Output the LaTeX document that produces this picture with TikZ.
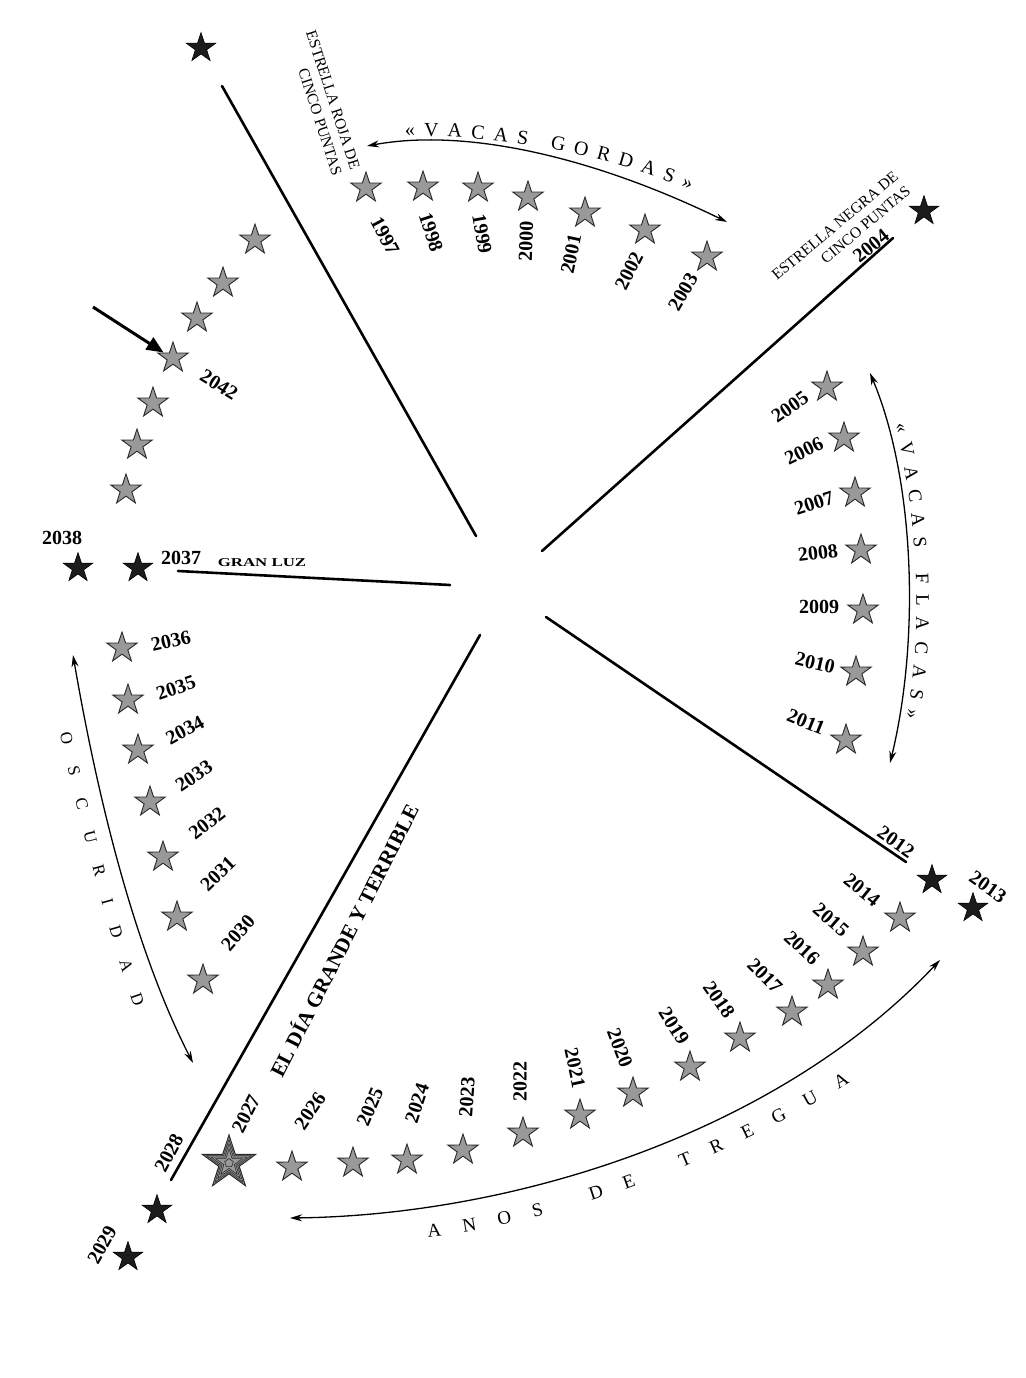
\documentclass[tikz,border=0pt]{standalone}
\usepackage{fontspec}
\setmainfont{Liberation Serif}
\usepackage{graphicx}
\usetikzlibrary{shapes.geometric,arrows.meta,decorations.text}
\definecolor{starfill}{HTML}{999999}
\definecolor{starline}{HTML}{2A2A2A}
\definecolor{bstarfill}{HTML}{1C1C1C}
\newcommand\yearfont{\fontsize{20}{21}\selectfont\bfseries}
\newcommand\capfont{\fontsize{15.5}{19}\selectfont}
\tikzset{
  gstar/.style={star, star points=5, star point ratio=2.6, minimum size=32pt, inner sep=0pt,
    fill=starfill, draw=starline, line width=0.9pt},
  bstar/.style={star, star points=5, star point ratio=2.6, minimum size=31pt, inner sep=0pt,
    fill=bstarfill, draw=black, line width=0.6pt},
  ostar/.style={star, star points=5, star point ratio=2.6, inner sep=0pt, draw=starline, line width=0.6pt},
  yr/.style={font=\yearfont, inner sep=0pt},
  lbl/.style={font=\capfont, inner sep=0pt, align=right},
  spoke/.style={line width=2.6pt, line cap=round},
  thinarr/.style={line width=1.3pt, {Stealth[length=12pt,width=7pt]}-{Stealth[length=12pt,width=7pt]}},
  curvetext/.style={decorate}
}
\begin{document}
\begin{tikzpicture}[x={(1pt,0)}, y={(0,-1pt)}]
\useasboundingbox (0,0) rectangle (1025,1378);
\fill[white] (0,0) rectangle (1025,1378);

% ---------- spokes ----------
\coordinate (a1) at (222,86);   \coordinate (a2) at (476,536);
\coordinate (b1) at (542,551);  \coordinate (b2) at (893,238);
\coordinate (c1) at (546,617);  \coordinate (c2) at (906,862);
\coordinate (d1) at (480,635);  \coordinate (d2) at (171,1180);
\coordinate (e1) at (450,585);  \coordinate (e2) at (178,571);
\draw[spoke] (a1) -- (a2);
\draw[spoke] (b1) -- (b2);
\draw[spoke] (c1) -- (c2);
\draw[spoke] (d1) -- (d2);
\draw[spoke] (e1) -- (e2);

% ---------- single black stars ----------
\node[bstar] (tl) at (201,48) {};
\node[bstar] (tr) at (924,211) {};
\node[bstar] (k2012) at (932,880) {};
\node[bstar] (k2013) at (973,908) {};
\node[bstar] (k2028) at (157,1210) {};
\node[bstar] (k2029) at (128,1257) {};
\node[bstar] (k2037) at (138,568) {};
\node[bstar] (k2038) at (78,568) {};

% ---------- top group 1997-2003 ----------
\node[gstar] (s1997) at (366,188) {};
\node[gstar] (s1998) at (423,187) {};
\node[gstar] (s1999) at (478,188) {};
\node[gstar] (s2000) at (528,197) {};
\node[gstar] (s2001) at (585,213) {};
\node[gstar] (s2002) at (645,230) {};
\node[gstar] (s2003) at (707,257) {};
\node[yr, rotate=-62] (y1997) at (385,236) {1997};
\node[yr, rotate=-72] (y1998) at (431,232) {1998};
\node[yr, rotate=-80] (y1999) at (482,234) {1999};
\node[yr, rotate=88]  (y2000) at (526,241) {2000};
\node[yr, rotate=78]  (y2001) at (571,254) {2001};
\node[yr, rotate=63]  (y2002) at (629,271) {2002};
\node[yr, rotate=60]  (y2003) at (683,292) {2003};

% Estrella roja
\node[lbl, rotate=-72] (roja) at (324,103) {ESTRELLA ROJA DE\\CINCO PUNTAS};

% Vacas gordas arrow
\coordinate (g1) at (367,146); \coordinate (g2) at (727,222);
\draw[thinarr] (g1) .. controls (470,127) and (600,160) .. (g2);
\path[curvetext, decoration={text along path, text align={fit to path},
  text={|\fontsize{20}{20}\selectfont|«VACAS GORDAS»}}]
  (405,137) .. controls (478,133) and (591,149) .. (690,190);

% Estrella negra
\node[lbl, rotate=40] (negra) at (841,233) {ESTRELLA NEGRA DE\\CINCO PUNTAS};
\node[yr, rotate=39] (y2004) at (871,246) {2004};

% ---------- right group 2005-2011 ----------
\node[gstar] (s2005) at (827,387) {};
\node[gstar] (s2006) at (844,438) {};
\node[gstar] (s2007) at (855,493) {};
\node[gstar] (s2008) at (861,550) {};
\node[gstar] (s2009) at (863,610) {};
\node[gstar] (s2010) at (856,672) {};
\node[gstar] (s2011) at (846,740) {};
\node[yr, rotate=35]  (y2005) at (790,407) {2005};
\node[yr, rotate=26]  (y2006) at (804,451) {2006};
\node[yr, rotate=18]  (y2007) at (814,503) {2007};
\node[yr, rotate=7]   (y2008) at (818,553) {2008};
\node[yr, rotate=0]   (y2009) at (819,607) {2009};
\node[yr, rotate=-13] (y2010) at (815,663) {2010};
\node[yr, rotate=-22] (y2011) at (806,722) {2011};

\coordinate (f1) at (870,373); \coordinate (f2) at (890,763);
\draw[thinarr] (f1) .. controls (915,480) and (920,640) .. (f2);
\path[curvetext, decoration={text along path, text align={fit to path},
  text={|\fontsize{19}{19}\selectfont|«VACAS FLACAS»}}]
  (895,424) .. controls (919,520) and (923,640) .. (906,718);

% ---------- 2012-2019 ----------
\node[yr, rotate=-35] (y2012) at (896,842) {2012};
\node[yr, rotate=-35] (y2013) at (988,887) {2013};
\node[gstar] (s2014) at (900,918) {};
\node[gstar] (s2015) at (863,952) {};
\node[gstar] (s2016) at (828,985) {};
\node[gstar] (s2017) at (792,1012) {};
\node[gstar] (s2018) at (740,1038) {};
\node[gstar] (s2019) at (690,1067) {};
\node[yr, rotate=-39] (y2014) at (862,890) {2014};
\node[yr, rotate=-41] (y2015) at (831,920) {2015};
\node[yr, rotate=-43] (y2016) at (802,948) {2016};
\node[yr, rotate=-45] (y2017) at (765,976) {2017};
\node[yr, rotate=-55] (y2018) at (719,1000) {2018};
\node[yr, rotate=-58] (y2019) at (674,1026) {2019};

% ---------- bottom group 2020-2027 ----------
\node[gstar] (s2020) at (633,1093) {};
\node[gstar] (s2021) at (580,1115) {};
\node[gstar] (s2022) at (523,1133) {};
\node[gstar] (s2023) at (463,1150) {};
\node[gstar] (s2024) at (407,1160) {};
\node[gstar] (s2025) at (353,1163) {};
\node[gstar] (s2026) at (292,1167) {};
\node[yr, rotate=-69] (y2020) at (620,1048) {2020};
\node[yr, rotate=-78] (y2021) at (575,1068) {2021};
\node[yr, rotate=90]  (y2022) at (520,1081) {2022};
\node[yr, rotate=86]  (y2023) at (467,1097) {2023};
\node[yr, rotate=72]  (y2024) at (417,1103) {2024};
\node[yr, rotate=67]  (y2025) at (370,1107) {2025};
\node[yr, rotate=56]  (y2026) at (310,1111) {2026};

% big star 2027
\node[gstar, minimum size=56pt, line width=1pt] (s2027) at (229,1163) {};
\node[ostar, minimum size=47pt] (s2027b) at (s2027) {};
\node[ostar, minimum size=38pt] (s2027c) at (s2027) {};
\node[ostar, minimum size=28pt] (s2027d) at (s2027) {};
\node[regular polygon, regular polygon sides=5, minimum size=9pt, inner sep=0pt,
  draw=starline, line width=0.6pt] (s2027e) at (s2027) {};
\node[yr, rotate=63] (y2027) at (246,1114) {2027};
\node[yr, rotate=62] (y2028) at (169,1153) {2028};
\node[yr, rotate=61] (y2029) at (102,1245) {2029};

\node[inner sep=0pt, rotate=63, font=\fontsize{21}{22}\selectfont\bfseries] (dia) at (343,940) {EL DÍA GRANDE Y TERRIBLE};

% Años de tregua
\coordinate (t1) at (290,1218); \coordinate (t2) at (940,960);
\draw[thinarr] (t1) .. controls (520,1215) and (780,1130) .. (t2);
\path[curvetext, decoration={text along path, text align={fit to path},
  text={|\fontsize{19}{19}\selectfont|ANOS DE TREGUA}}]
  (428,1237) .. controls (560,1223) and (720,1161) .. (850,1083);

% ---------- left group 2030-2036 ----------
\node[gstar] (s2030) at (203,980) {};
\node[gstar] (s2031) at (177,917) {};
\node[gstar] (s2032) at (163,857) {};
\node[gstar] (s2033) at (150,802) {};
\node[gstar] (s2034) at (138,750) {};
\node[gstar] (s2035) at (128,700) {};
\node[gstar] (s2036) at (122,648) {};
\node[yr, rotate=49] (y2030) at (238,933) {2030};
\node[yr, rotate=44] (y2031) at (218,874) {2031};
\node[yr, rotate=38] (y2032) at (207,823) {2032};
\node[yr, rotate=34] (y2033) at (194,776) {2033};
\node[yr, rotate=28] (y2034) at (185,730) {2034};
\node[yr, rotate=19] (y2035) at (176,688) {2035};
\node[yr, rotate=13] (y2036) at (171,641) {2036};

\coordinate (o1) at (73,655); \coordinate (o2) at (193,1063);
\draw[thinarr] (o1) .. controls (98,800) and (135,950) .. (o2);
\path[curvetext, decoration={text along path, text align={fit to path},
  text={|\fontsize{17}{17}\selectfont|OSCURIDAD}}]
  (60,733) .. controls (74,800) and (107,930) .. (134,1007);

% ---------- 2037 / 2038 ----------
\node[yr] (y2037) at (181,558) {2037};
\node[inner sep=0pt, font=\fontsize{12}{13}\selectfont\bfseries] (granluz) at (262,563) {\scalebox{1.4}[1]{GRAN LUZ}};
\node[yr] (y2038) at (62,538) {2038};

% ---------- upper-left group ----------
\node[gstar] (u1) at (255,240) {};
\node[gstar] (u2) at (223,283) {};
\node[gstar] (u3) at (197,318) {};
\node[gstar] (u4) at (173,358) {};
\node[gstar] (u5) at (153,403) {};
\node[gstar] (u6) at (137,445) {};
\node[gstar] (u7) at (126,490) {};
\node[yr, rotate=-32] (y2042) at (219,385) {2042};
\coordinate (p1) at (93,307);
\draw[line width=3pt, -{Triangle[length=17pt,width=14pt]}] (p1) -- (u4.150);
\end{tikzpicture}
\end{document}
